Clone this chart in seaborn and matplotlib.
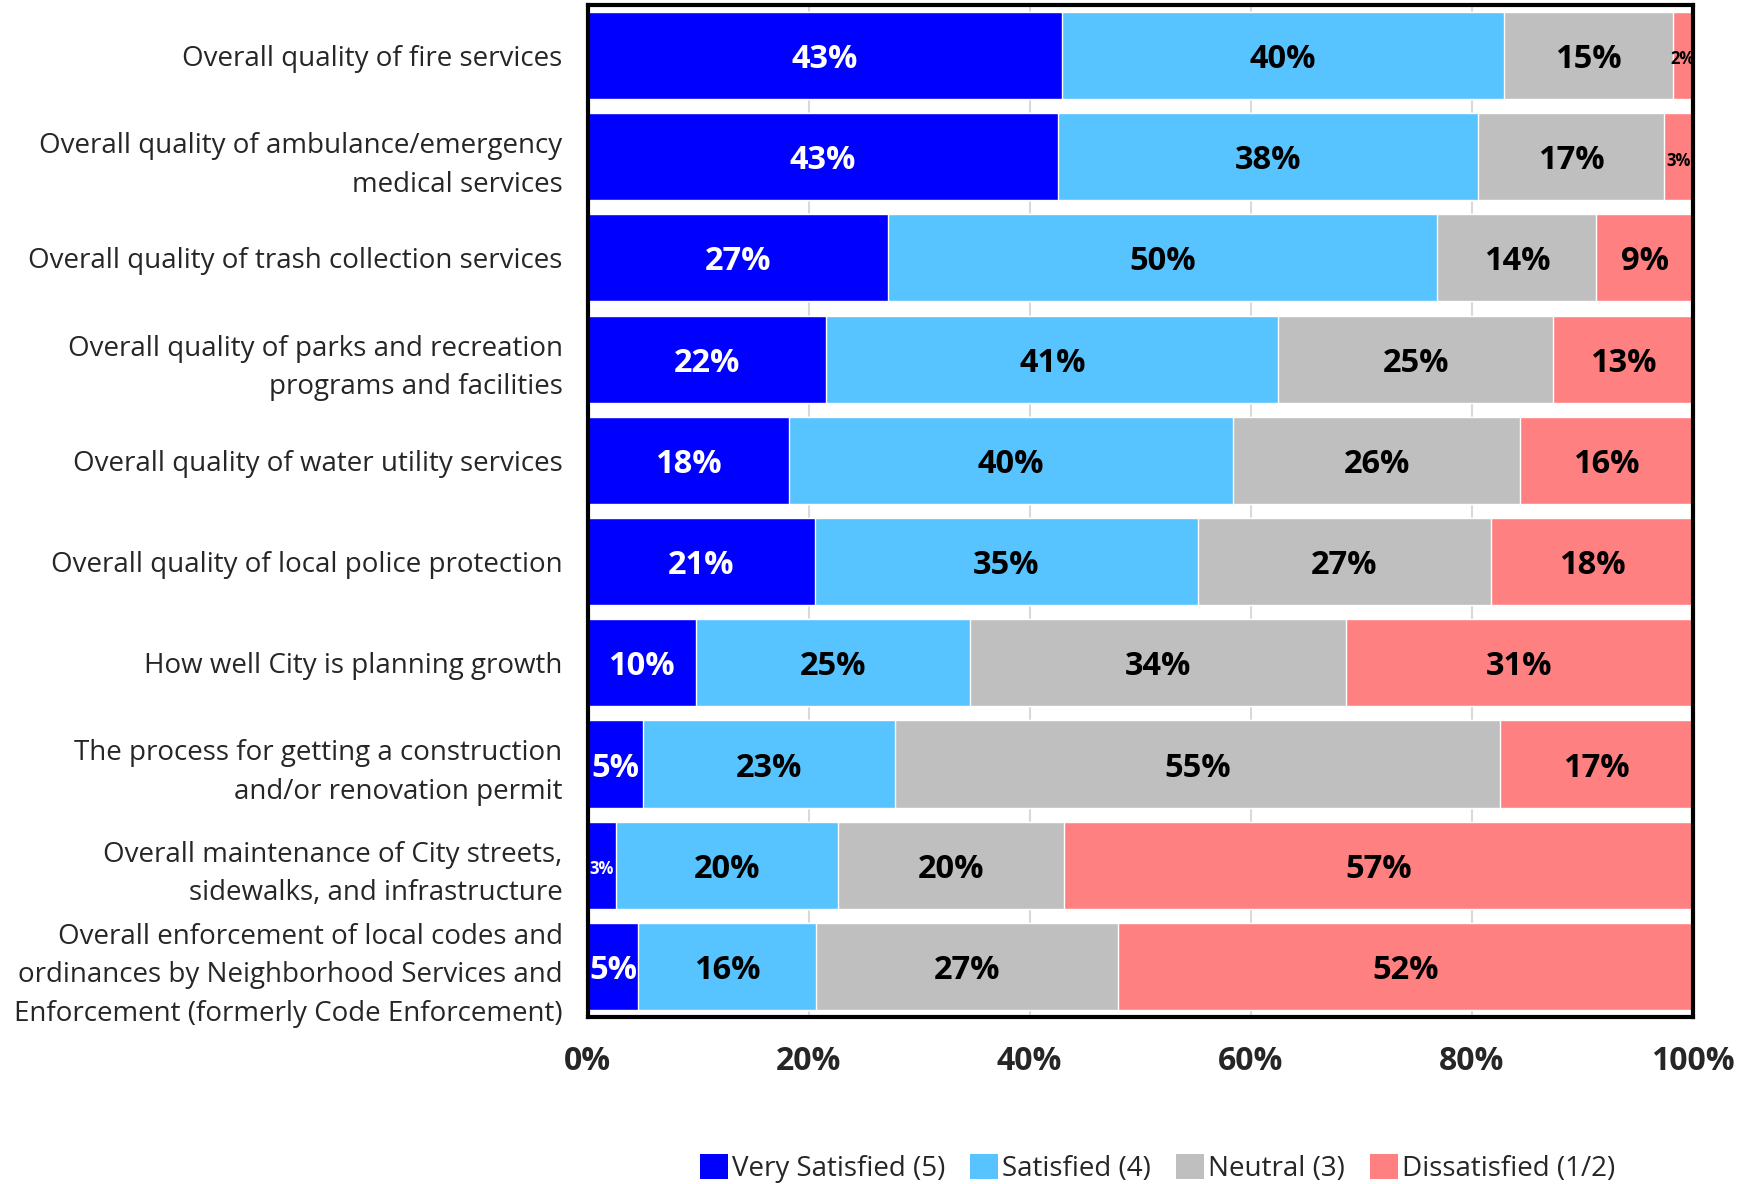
import numpy as np
import pandas as pd
import matplotlib
matplotlib.use("Agg")
import matplotlib.pyplot as plt
from matplotlib.patches import Patch
import seaborn as sns

# survey items, top to bottom
items = [
    "Overall quality of fire services",
    "Overall quality of ambulance/emergency\nmedical services",
    "Overall quality of trash collection services",
    "Overall quality of parks and recreation\nprograms and facilities",
    "Overall quality of water utility services",
    "Overall quality of local police protection",
    "How well City is planning growth",
    "The process for getting a construction\nand/or renovation permit",
    "Overall maintenance of City streets,\nsidewalks, and infrastructure",
    "Overall enforcement of local codes and\nordinances by Neighborhood Services and\nEnforcement (formerly Code Enforcement)",
]
very_satisfied = [42.9, 42.6, 27.2, 21.6, 18.2, 20.6, 9.8, 5.0, 2.6, 4.6]
satisfied = [40.0, 38.0, 49.7, 40.9, 40.2, 34.6, 24.8, 22.8, 20.1, 16.1]
neutral = [15.3, 16.8, 14.4, 24.9, 26.0, 26.6, 34.0, 54.8, 20.4, 27.3]
dissatisfied = [1.8, 2.6, 8.7, 12.6, 15.6, 18.2, 31.4, 17.4, 56.9, 52.0]

levels = ["Very Satisfied (5)", "Satisfied (4)", "Neutral (3)", "Dissatisfied (1/2)"]
colors = ["#0000FF", "#57C4FF", "#BFBFBF", "#FF8080"]
text_colors = ["white", "black", "black", "black"]
xtick_vals = [0, 20, 40, 60, 80, 100]

series = [very_satisfied, satisfied, neutral, dissatisfied]
df = pd.DataFrame({lvl: vals for lvl, vals in zip(levels, series)})
df["item"] = items
cum = df[levels].cumsum(axis=1)

sns.set_style("white")
plt.rcParams["font.family"] = ["Open Sans", "DejaVu Sans"]

fig = plt.figure(figsize=(17.54, 11.84), dpi=100)
ax = fig.add_axes([0.335, 0.141, 0.630, 0.855])

# stacked bars: draw cumulative totals from the right-most segment inward
for lvl, col in reversed(list(zip(levels, colors))):
    sns.barplot(x=cum[lvl], y=df["item"], color=col, width=0.86,
                orient="h", ax=ax, zorder=2, saturation=1)

# segment labels
for k, (lvl, tc) in enumerate(zip(levels, text_colors)):
    for i, (v, right) in enumerate(zip(df[lvl], cum[lvl])):
        small = v < 4
        xc = right - v / 2
        ax.text(xc, i + 0.04, "%.0f%%" % v, ha="center", va="center",
                color=tc, fontweight="bold",
                fontsize=12 if small else 23.5, zorder=3)

ax.set_xlim(0, 100)
ax.set_ylim(9.5, -0.5)
ax.set_xticks(xtick_vals)
ax.set_xticklabels(["%d%%" % t for t in xtick_vals], fontsize=23,
                   fontweight="bold")
ax.set_xlabel("")
ax.set_ylabel("")
ax.tick_params(axis="y", length=0, pad=18, labelsize=20)
ax.tick_params(axis="x", length=0, pad=20)
for lab in ax.get_yticklabels():
    lab.set_multialignment("right")
    lab.set_linespacing(1.5)
ax.xaxis.grid(True, color="#D9D9D9", linewidth=1.5, zorder=0)
ax.set_axisbelow(True)
for sp in ax.spines.values():
    sp.set_visible(True)
    sp.set_color("black")
    sp.set_linewidth(3)

handles = [Patch(facecolor=c, edgecolor="none") for c in colors]
fig.legend(handles, levels, loc="center", bbox_to_anchor=(0.66, 0.013),
           ncol=4, frameon=False, fontsize=20, handlelength=1.0,
           handleheight=1.0, handletextpad=0.15, columnspacing=0.9)

fig.savefig("out.png", dpi=100)
